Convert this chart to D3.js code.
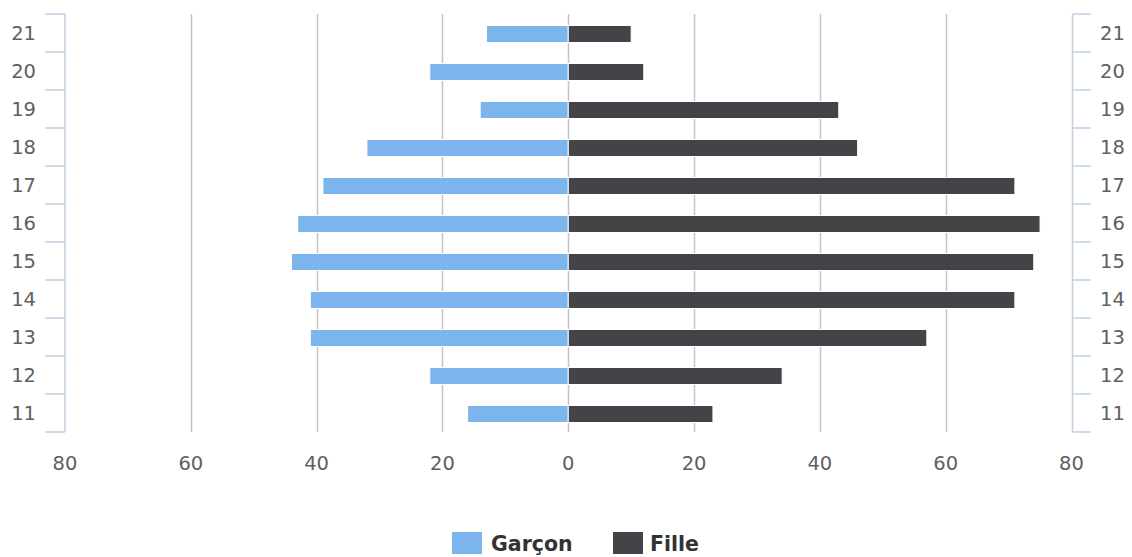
<!DOCTYPE html>
<html><head><meta charset="utf-8">
<script src="https://cdn.jsdelivr.net/npm/d3@7"></script>
<style>body{margin:0;background:#fff;} svg{display:block;}</style>
</head><body>
<script>
const categories = ["11","12","13","14","15","16","17","18","19","20","21"];
const garcon = [16, 22, 41, 41, 44, 43, 39, 32, 14, 22, 13];
const fille = [23, 34, 57, 71, 74, 75, 71, 46, 43, 12, 10];
const xTicks = [-80, -60, -40, -20, 0, 20, 40, 60, 80];
const seriesNames = ["Garçon", "Fille"];
const colors = ["#7cb5ec", "#434348"];

const W = 1132, H = 557;
const svg = d3.select("body").append("svg").attr("width", W).attr("height", H);
const font = "'DejaVu Sans', sans-serif";

const x = d3.scaleLinear().domain([-80, 80]).range([65, 1071.5]);
const y = d3.scaleBand().domain(categories.slice().reverse()).range([14, 432]);
const barH = 17;

// gridlines
svg.append("g").selectAll("line").data(xTicks.filter(t => Math.abs(t) < 80)).join("line")
  .attr("x1", d => Math.round(x(d)) + 0.5).attr("x2", d => Math.round(x(d)) + 0.5)
  .attr("y1", 14).attr("y2", 432)
  .attr("stroke", "#c4c4c4").attr("stroke-width", 1.5);

// bars
const rows = categories.map((c, i) => ({c, g: garcon[i], f: fille[i]}));
svg.append("g").selectAll("rect").data(rows).join("rect")
  .attr("x", d => x(-d.g)).attr("width", d => x(0) - x(-d.g))
  .attr("y", d => y(d.c) + y.bandwidth() / 2 - barH / 2 + 1).attr("height", barH)
  .attr("fill", colors[0]).attr("stroke", "#fff").attr("stroke-width", 1);
svg.append("g").selectAll("rect").data(rows).join("rect")
  .attr("x", x(0)).attr("width", d => x(d.f) - x(0))
  .attr("y", d => y(d.c) + y.bandwidth() / 2 - barH / 2 + 1).attr("height", barH)
  .attr("fill", colors[1]).attr("stroke", "#fff").attr("stroke-width", 1);

// category axes (left and right)
const axisColor = "#c0d0e0";
const bounds = categories.map(c => y(c)).concat([432]);
function catAxis(ax, tickX1, tickX2, labelX, anchor) {
  const g = svg.append("g");
  g.append("line").attr("x1", ax).attr("x2", ax).attr("y1", 14).attr("y2", 432)
    .attr("stroke", axisColor).attr("stroke-width", 1.5);
  g.selectAll("line.t").data(bounds).join("line").attr("class", "t")
    .attr("x1", tickX1).attr("x2", tickX2).attr("y1", d => d).attr("y2", d => d)
    .attr("stroke", axisColor).attr("stroke-width", 1.5);
  g.selectAll("text").data(categories).join("text")
    .attr("x", labelX).attr("y", d => y(d) + y.bandwidth() / 2 + 7)
    .attr("text-anchor", anchor).attr("font-family", font).attr("font-size", 19.5)
    .attr("fill", "#606060").text(d => d);
}
catAxis(65, 45, 65, 36, "end");
catAxis(1072.5, 1072.5, 1091, 1100, "start");

// x tick labels
svg.append("g").selectAll("text").data(xTicks).join("text")
  .attr("x", d => x(d)).attr("y", 470)
  .attr("text-anchor", "middle").attr("font-family", font).attr("font-size", 19.5)
  .attr("fill", "#606060").text(d => Math.abs(d));

// legend
const legend = [
  {name: seriesNames[0], color: colors[0], sx: 452, tx: 491},
  {name: seriesNames[1], color: colors[1], sx: 613, tx: 650}
];
const lg = svg.append("g").selectAll("g").data(legend).join("g");
lg.append("rect").attr("x", d => d.sx).attr("y", 532).attr("width", 30).attr("height", 22)
  .attr("fill", d => d.color);
lg.append("text").attr("x", d => d.tx).attr("y", 551)
  .attr("font-family", font).attr("font-size", 20.5).attr("font-weight", "bold")
  .attr("fill", "#333").text(d => d.name);
</script>
</body></html>
